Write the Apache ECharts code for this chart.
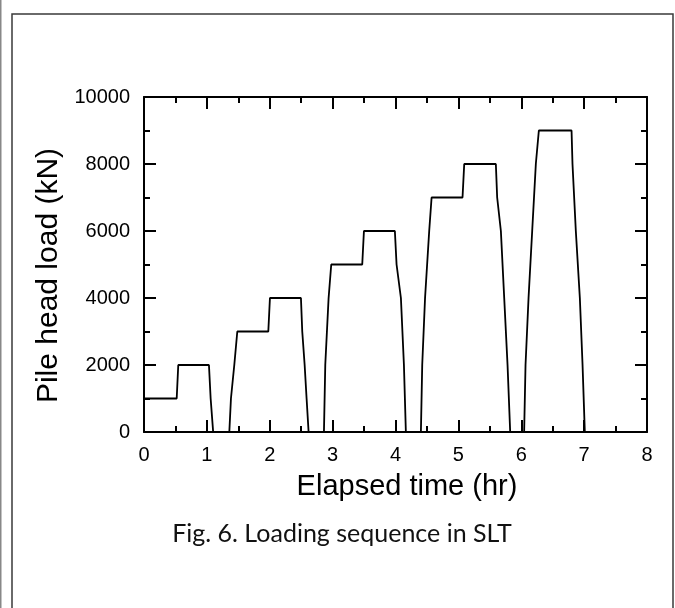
<!DOCTYPE html>
<html>
<head>
<meta charset="utf-8">
<script src="https://cdn.jsdelivr.net/npm/echarts@6/dist/echarts.min.js"></script>
<style>
html,body{margin:0;padding:0;background:#fff;}
#chart{width:675px;height:608px;}
</style>
</head>
<body>
<div id="chart"></div>
<script>
// Elapsed time (hr) at each vertex of the loading record
var timeHr = [
  0, 0.52, 0.545, 1.033, 1.06, 1.081, 1.10,
  1.357, 1.383, 1.395, 1.436, 1.457, 1.484, 1.977, 2.003, 2.496, 2.517, 2.533, 2.555, 2.57, 2.586, 2.597, 2.618,
  2.862, 2.883, 2.905, 2.936, 2.957, 2.978, 3.471, 3.498, 3.99, 4.017, 4.04, 4.086, 4.107, 4.134, 4.15, 4.165,
  4.404, 4.425, 4.447, 4.47, 4.49, 4.536, 4.558, 4.574, 5.066, 5.093, 5.596, 5.617, 5.644, 5.676, 5.697, 5.729, 5.755, 5.782, 5.803, 5.824,
  6.046, 6.068, 6.089, 6.116, 6.137, 6.174, 6.196, 6.232, 6.253, 6.28, 6.8, 6.815, 6.841, 6.868, 6.895, 6.932, 6.953, 6.975, 6.995, 7.011
];
// Pile head load (kN) at each vertex
var loadKN = [
  1000, 1000, 2000, 2000, 1000, 1000, 0,
  0, 1000, 1000, 2000, 2000, 3000, 3000, 4000, 4000, 3000, 3000, 2000, 2000, 1000, 1000, 0,
  0, 2000, 2000, 4000, 4000, 5000, 5000, 6000, 6000, 5000, 5000, 4000, 4000, 2000, 2000, 0,
  0, 2000, 2000, 4000, 4000, 6000, 6000, 7000, 7000, 8000, 8000, 7000, 7000, 6000, 6000, 4000, 4000, 2000, 2000, 0,
  0, 2000, 2000, 4000, 4000, 6000, 6000, 8000, 8000, 9000, 9000, 8000, 8000, 6000, 6000, 4000, 4000, 2000, 2000, 0
];
var xTitle = 'Elapsed time (hr)';
var yTitle = 'Pile head load (kN)';
var caption = 'Fig. 6. Loading sequence in SLT';

var pts = timeHr.map(function (t, i) { return [t, loadKN[i]]; });

var FONT = '"Liberation Sans", Arial, sans-serif';
var axisCommon = {
  axisLine: { show: true, onZero: false, lineStyle: { color: '#000', width: 2 } },
  axisTick: { show: true, inside: true, length: 12, lineStyle: { color: '#000', width: 2 } },
  minorTick: { show: true, splitNumber: 2, length: 6, lineStyle: { color: '#000', width: 2 } },
  splitLine: { show: false },
  minorSplitLine: { show: false }
};
function plain(v) { return String(v); }

var chart = echarts.init(document.getElementById('chart'), null, { renderer: 'canvas' });
chart.setOption({
  animation: false,
  backgroundColor: '#fff',
  grid: { left: 144, top: 97, right: 28, bottom: 176, containLabel: false },
  xAxis: [
    Object.assign({
      type: 'value', min: 0, max: 8, interval: 1, position: 'bottom',
      axisLabel: { show: true, color: '#000', fontSize: 20, fontFamily: FONT, margin: 13, formatter: plain },
      name: xTitle, nameLocation: 'middle', nameGap: 40,
      nameTextStyle: { color: '#000', fontSize: 29, fontFamily: FONT, padding: [0, 0, 0, 23] }
    }, axisCommon),
    Object.assign({
      type: 'value', min: 0, max: 8, interval: 1, position: 'top',
      axisLabel: { show: false }
    }, axisCommon)
  ],
  yAxis: [
    Object.assign({
      type: 'value', min: 0, max: 10000, interval: 2000, position: 'left',
      axisLabel: { show: true, color: '#000', fontSize: 20, fontFamily: FONT, margin: 14, formatter: plain },
      name: yTitle, nameLocation: 'middle', nameGap: 75,
      nameTextStyle: { color: '#000', fontSize: 30, fontFamily: FONT, padding: [0, 22, 0, 0] }
    }, axisCommon),
    Object.assign({
      type: 'value', min: 0, max: 10000, interval: 2000, position: 'right',
      axisLabel: { show: false }
    }, axisCommon)
  ],
  series: [{
    type: 'line',
    xAxisIndex: 0, yAxisIndex: 0,
    data: pts,
    showSymbol: false,
    symbol: 'none',
    lineStyle: { color: '#000', width: 1.8 },
    z: 1
  }],
  graphic: [
    { type: 'rect', shape: { x: 12, y: 14, width: 661, height: 620 },
      style: { fill: 'none', stroke: '#3a3a3a', lineWidth: 1.5 }, silent: true },
    { type: 'line', shape: { x1: 0.5, y1: 0, x2: 0.5, y2: 608 },
      style: { stroke: '#888', lineWidth: 2 }, silent: true },
    { type: 'text', x: 342, y: 521,
      style: { text: caption, fill: '#111', font: '25px Lato, "Open Sans", sans-serif', textAlign: 'center' } }
  ]
});
</script>
</body>
</html>
